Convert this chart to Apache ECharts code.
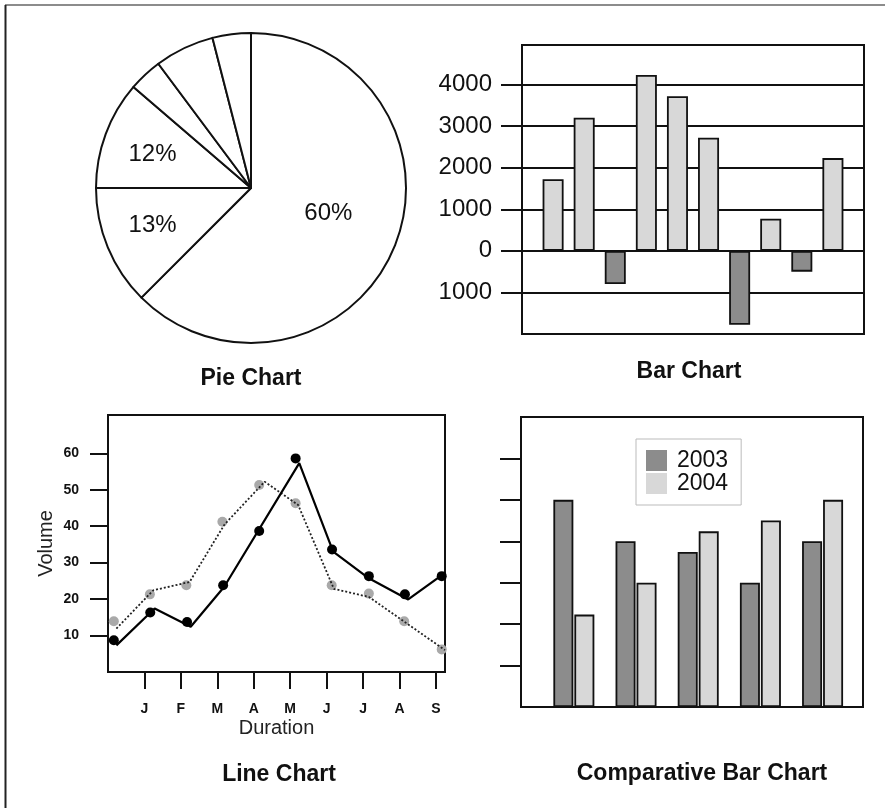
<!DOCTYPE html>
<html>
<head>
<meta charset="utf-8">
<script src="https://cdn.jsdelivr.net/npm/echarts@6/dist/echarts.min.js"></script>
<style>
html,body{margin:0;padding:0;background:#fff;}
#main{width:890px;height:808px;}
</style>
</head>
<body>
<div id="main"></div>
<script>
// ---------- DATA ----------
// Pie chart (slice shares) and printed labels
const pieValues = [62.5, 12.5, 11.3, 3.5, 6.2, 4.0];
const pieLabels = ['60%', '13%', '12%', '', '', ''];

// Bar chart
const barPositions = [1, 2, 3, 4, 5, 6, 7, 8, 9, 10];
const barValues = [1720, 3200, -800, 4230, 3720, 2720, -1780, 770, -500, 2230];
const barTickValues = [-1000, 0, 1000, 2000, 3000, 4000];

// Line chart
const monthLabels = ['J', 'F', 'M', 'A', 'M', 'J', 'J', 'A', 'S'];
const monthTicks = [1, 2, 3, 4, 5, 6, 7, 8, 9];
const volumeTicks = [10, 20, 30, 40, 50, 60];
const solidLineX = [0.23, 1.28, 2.27, 3.19, 5.25, 6.18, 7.16, 8.24, 9.25];
const solidLineY = [7.3, 17.4, 12.4, 23.4, 57.3, 33.0, 25.7, 19.9, 27.2];
const dottedLineX = [0.23, 1.24, 2.24, 3.2, 4.3, 5.22, 6.2, 7.16, 9.25];
const dottedLineY = [11.9, 22.4, 24.7, 40.5, 52.2, 45.8, 22.8, 20.6, 6.0];
const blackPointX = [0.16, 1.16, 2.17, 3.16, 4.15, 5.15, 6.15, 7.16, 8.15, 9.16];
const blackPointY = [8.7, 16.3, 13.7, 23.8, 38.7, 58.6, 33.6, 26.3, 21.3, 26.3];
const grayPointX = [0.16, 1.15, 2.15, 3.14, 4.15, 5.15, 6.14, 7.16, 8.13, 9.16];
const grayPointY = [13.9, 21.3, 23.8, 41.2, 51.3, 46.3, 23.8, 21.5, 13.9, 6.2];

// Comparative bar chart
const groupPositions = [1, 2, 3, 4, 5];
const values2003 = [5.0, 4.0, 3.74, 3.0, 4.0];
const values2004 = [2.23, 3.0, 4.24, 4.5, 5.0];
const compTicks = [1, 2, 3, 4, 5, 6];

// ---------- STYLE ----------
const FONT = '"Liberation Sans", Arial, "DejaVu Sans", sans-serif';
const LIGHT = '#d8d8d8';
const DARK = '#8c8c8c';
const pieLabelOffsets = [[3, -5], [-24, 7], [-23, -6], [0, 0], [0, 0], [0, 0]];

const zip = (xs, ys) => xs.map((x, i) => [x, ys[i]]);

const chart = echarts.init(document.getElementById('main'), null, {renderer: 'canvas'});

const titleStyle = {fontFamily: FONT, fontSize: 23, fontWeight: 'bold', color: '#111'};

const option = {
  animation: false,
  backgroundColor: '#fff',
  textStyle: {fontFamily: FONT},
  title: [
    {text: 'Pie Chart', left: 251, top: 367, textAlign: 'center', padding: 0, textStyle: titleStyle},
    {text: 'Bar Chart', left: 689, top: 360, textAlign: 'center', padding: 0, textStyle: titleStyle},
    {text: 'Line Chart', left: 279, top: 763, textAlign: 'center', padding: 0, textStyle: titleStyle},
    {text: 'Comparative Bar Chart', left: 702, top: 762, textAlign: 'center', padding: 0, textStyle: titleStyle}
  ],
  legend: {
    data: ['2003', '2004'],
    orient: 'vertical',
    left: 636, top: 439,
    itemWidth: 21, itemHeight: 21, itemGap: 0,
    icon: 'rect',
    padding: [10, 13, 10, 10],
    borderColor: '#bbb', borderWidth: 1,
    selectedMode: false,
    itemStyle: {borderWidth: 0},
    textStyle: {fontFamily: FONT, fontSize: 23, lineHeight: 21, color: '#111', padding: [0, 0, 0, 5]}
  },
  graphic: [
    {type: 'line', shape: {x1: 5, y1: 5, x2: 885, y2: 5}, style: {stroke: '#666', lineWidth: 1.5}},
    {type: 'line', shape: {x1: 5.5, y1: 5, x2: 5.5, y2: 808}, style: {stroke: '#222', lineWidth: 2}}
  ],
  grid: [
    {left: 522, top: 45, width: 342, height: 289, show: true, borderColor: '#111', borderWidth: 2, backgroundColor: '#fff'},
    {left: 108, top: 415, width: 337, height: 257, show: true, borderColor: '#111', borderWidth: 2, backgroundColor: '#fff'},
    {left: 521, top: 417, width: 342, height: 290, show: true, borderColor: '#111', borderWidth: 2, backgroundColor: '#fff'}
  ],
  xAxis: [
    {gridIndex: 0, type: 'value', min: 0, max: 11, show: false},
    {
      gridIndex: 1, type: 'value', min: 0, max: 9.25,
      axisLine: {show: false},
      splitLine: {show: false},
      axisTick: {show: true, customValues: monthTicks, length: 17, lineStyle: {color: '#111', width: 2}},
      axisLabel: {
        customValues: monthTicks, margin: 30,
        formatter: v => monthLabels[Math.round(v) - 1] || '',
        fontFamily: FONT, fontSize: 14, fontWeight: 'bold', color: '#111'
      },
      name: 'Duration', nameLocation: 'middle', nameGap: 46,
      nameTextStyle: {fontFamily: FONT, fontSize: 20, color: '#222'}
    },
    {gridIndex: 2, type: 'value', min: 0.15, max: 5.65, show: false}
  ],
  yAxis: [
    {
      gridIndex: 0, type: 'value', min: -2000, max: 4950,
      axisLine: {show: false},
      axisTick: {show: true, customValues: barTickValues, length: 21, lineStyle: {color: '#111', width: 2}},
      splitLine: {show: true, lineStyle: {color: '#111', width: 2}},
      axisLabel: {
        customValues: barTickValues, margin: 30,
        formatter: v => String(Math.abs(v)),
        fontFamily: FONT, fontSize: 24, color: '#111'
      }
    },
    {
      gridIndex: 1, type: 'value', min: 0, max: 70.5,
      axisLine: {show: false},
      splitLine: {show: false},
      axisTick: {show: true, customValues: volumeTicks, length: 18, lineStyle: {color: '#111', width: 2}},
      axisLabel: {
        customValues: volumeTicks, margin: 29,
        fontFamily: FONT, fontSize: 14, fontWeight: 'bold', color: '#111'
      },
      name: 'Volume', nameLocation: 'middle', nameGap: 52,
      nameTextStyle: {fontFamily: FONT, fontSize: 20, color: '#222'}
    },
    {
      gridIndex: 2, type: 'value', min: 0, max: 7,
      axisLine: {show: false},
      splitLine: {show: false},
      axisTick: {show: true, customValues: compTicks, length: 21, lineStyle: {color: '#111', width: 2}},
      axisLabel: {show: false}
    }
  ],
  series: [
    {
      type: 'pie',
      center: [251, 188],
      radius: [0, 155],
      startAngle: 90,
      clockwise: true,
      avoidLabelOverlap: false,
      silent: true,
      itemStyle: {color: '#fff', borderColor: '#111', borderWidth: 2},
      label: {show: true, position: 'inside', fontFamily: FONT, fontSize: 24, color: '#111'},
      labelLine: {show: false},
      data: pieValues.map((v, i) => ({
        value: v, name: 'p' + i,
        label: {formatter: pieLabels[i], offset: pieLabelOffsets[i]}
      }))
    },
    {
      type: 'bar', xAxisIndex: 0, yAxisIndex: 0,
      barWidth: 21,
      data: zip(barPositions, barValues),
      itemStyle: {
        color: p => (p.value[1] < 0 ? DARK : LIGHT),
        borderColor: '#111', borderWidth: 1.8
      },
      z: 3
    },
    {
      name: 'dotted', type: 'line', xAxisIndex: 1, yAxisIndex: 1,
      data: zip(dottedLineX, dottedLineY),
      showSymbol: false, symbol: 'none',
      lineStyle: {color: '#222', width: 1.8, type: [2, 2]},
      z: 4
    },
    {
      name: 'solid', type: 'line', xAxisIndex: 1, yAxisIndex: 1,
      data: zip(solidLineX, solidLineY),
      showSymbol: false, symbol: 'none',
      lineStyle: {color: '#000', width: 2.2},
      z: 4
    },
    {
      type: 'scatter', xAxisIndex: 1, yAxisIndex: 1,
      data: zip(grayPointX, grayPointY),
      symbol: 'circle', symbolSize: 10,
      itemStyle: {color: '#a9a9a9', opacity: 1},
      clip: false, z: 3
    },
    {
      type: 'scatter', xAxisIndex: 1, yAxisIndex: 1,
      data: zip(blackPointX, blackPointY),
      symbol: 'circle', symbolSize: 10,
      itemStyle: {color: '#000', opacity: 1},
      clip: false, z: 5
    },
    {
      name: '2003', type: 'bar', xAxisIndex: 2, yAxisIndex: 2,
      barWidth: 20, barGap: '5%',
      data: zip(groupPositions, values2003),
      itemStyle: {color: DARK, borderColor: '#111', borderWidth: 1.8}
    },
    {
      name: '2004', type: 'bar', xAxisIndex: 2, yAxisIndex: 2,
      barWidth: 20, barGap: '5%',
      data: zip(groupPositions, values2004),
      itemStyle: {color: LIGHT, borderColor: '#111', borderWidth: 1.8}
    }
  ]
};

chart.setOption(option);
</script>
</body>
</html>
